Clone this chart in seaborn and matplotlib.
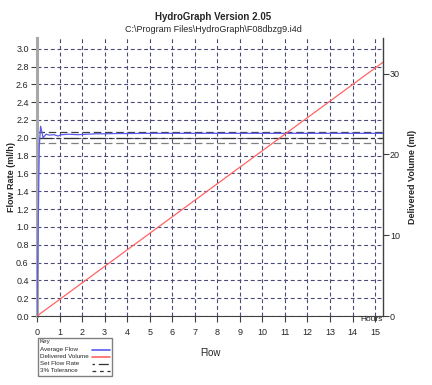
import numpy as np
import pandas as pd
import matplotlib
matplotlib.use('Agg')
import matplotlib.pyplot as plt
from matplotlib.lines import Line2D
from matplotlib.patches import Rectangle
import seaborn as sns

# Average flow readings (ml/h) against elapsed hours
avg_hours = [0.0, 0.1, 0.16, 0.27, 0.4, 0.55, 0.75, 0.93, 1.1, 1.4, 1.8, 2.2, 2.6, 3.0, 3.5, 4.0, 5.0, 6.0, 8.0, 10.0, 12.0, 15.35]
avg_flow = [0.0, 1.9, 2.13, 2.0, 2.04, 2.03, 2.035, 2.02, 2.035, 2.04, 2.035, 2.04, 2.045, 2.045, 2.048, 2.048, 2.05, 2.05, 2.05, 2.05, 2.05, 2.05]

# Delivered volume (ml)
vol_hours = [0.0, 15.35]
vol_ml = [0.0, 31.4]

set_rate = 2.0
tolerance = [2.06, 1.94]

hour_ticks = list(range(16))
flow_ticks = [round(v, 1) for v in np.arange(0, 3.01, 0.2)]
vol_ticks = [0, 10, 20, 30]

key_labels = ['Average Flow', 'Delivered Volume', 'Set Flow Rate', '3% Tolerance']

sns.set_style('white')
plt.rcParams['font.family'] = ['Liberation Sans', 'DejaVu Sans']

grid_col = '#4a4a78'
blue = '#5a5aee'
red = '#ff6464'
flow_df = pd.DataFrame({'hours': avg_hours, 'flow': avg_flow})
vol_df = pd.DataFrame({'hours': vol_hours, 'volume': vol_ml})

W, H = 432, 385
fig = plt.figure(figsize=(W / 100, H / 100), dpi=100)
ax = fig.add_axes([37 / W, 1 - 316 / H, 346 / W, 278 / H])

ax.set_xlim(0, 15.35)
ax.set_ylim(0, 3.12)
ax.set_xticks(hour_ticks)
ax.set_yticks(flow_ticks)
ax.set_yticklabels([f'{v:.1f}' for v in flow_ticks])
ax.grid(True, color=grid_col, linestyle=(0, (3.5, 2.5)), linewidth=0.8)
ax.set_axisbelow(True)

# set rate and 3% tolerance
ax.axhline(set_rate, color='#303030', linewidth=0.9, linestyle=(0, (12, 3, 3, 3)), zorder=2)
ax.axhline(tolerance[0], color='#404040', linewidth=0.9, linestyle=(0, (6, 3)), zorder=2)
ax.axhline(tolerance[1], color='#808080', linewidth=0.9, linestyle=(0, (6, 3)), zorder=2)

sns.lineplot(data=flow_df, x='hours', y='flow', ax=ax, color=blue, linewidth=0.9, zorder=3)

ax2 = ax.twinx()
sns.lineplot(data=vol_df, x='hours', y='volume', ax=ax2, color=red, linewidth=0.9)
ax2.set_ylim(0, 34.4)
ax2.set_yticks(vol_ticks)
ax2.set_xlim(0, 15.35)

for a in (ax, ax2):
    a.set_xlabel('')
    a.set_ylabel('')
    a.spines['top'].set_visible(False)

ax.spines['left'].set_color('#a8a8a8')
ax.spines['left'].set_linewidth(2.2)
ax.spines['bottom'].set_color('#404040')
ax.spines['right'].set_visible(False)
ax2.spines['left'].set_visible(False)
ax2.spines['bottom'].set_visible(False)
ax2.spines['right'].set_color('#404040')
ax2.spines['right'].set_linewidth(1.0)

ax.tick_params(axis='both', labelsize=6.5, length=4, width=0.8, color='#404040', pad=2)
ax.tick_params(axis='x', bottom=True, pad=4.5)
ax2.tick_params(axis='y', labelsize=6.5, length=4, width=0.8, color='#404040', right=True, pad=1)

ax.set_ylabel('Flow Rate (ml/h)', fontsize=6.5, fontweight='bold', labelpad=0)
ax2.set_ylabel('Delivered Volume (ml)', fontsize=6.5, fontweight='bold', rotation=90, labelpad=6)
ax.set_xlabel('Flow', fontsize=7, labelpad=8)

fig.text(372 / W, 1 - 319.5 / H, 'Hours', fontsize=6.0, ha='center', va='center')
fig.text(213 / W, 1 - 17 / H, 'HydroGraph Version 2.05', fontsize=7, fontweight='bold', ha='center', va='center')
fig.text(213 / W, 1 - 30 / H, 'C:\\Program Files\\HydroGraph\\F08dbzg9.i4d', fontsize=6.5, ha='center', va='center')

# key box under the plot, text on the left, line samples on the right
fig.patches.append(Rectangle((38 / W, 1 - 376 / H), 74 / W, 38 / H, transform=fig.transFigure,
                             facecolor='white', edgecolor='#808080', linewidth=1.0))
fig.text(40 / W, 1 - 342 / H, 'Key', fontsize=4.5, ha='left', va='center')
key_styles = [
    dict(color=blue, linewidth=1.2, linestyle='-'),
    dict(color=red, linewidth=1.2, linestyle='-'),
    dict(color='#303030', linewidth=0.9, linestyle=(0, (2, 3, 8, 3))),
    dict(color='#303030', linewidth=0.9, linestyle=(0, (3, 3))),
]
for i, (lab, st) in enumerate(zip(key_labels, key_styles)):
    yy = 1 - (349.5 + 7 * i) / H
    fig.text(40 / W, yy, lab, fontsize=4.5, ha='left', va='center')
    fig.lines.append(Line2D([92 / W, 110 / W], [yy, yy], transform=fig.transFigure, **st))

fig.savefig('out.png', dpi=100)
